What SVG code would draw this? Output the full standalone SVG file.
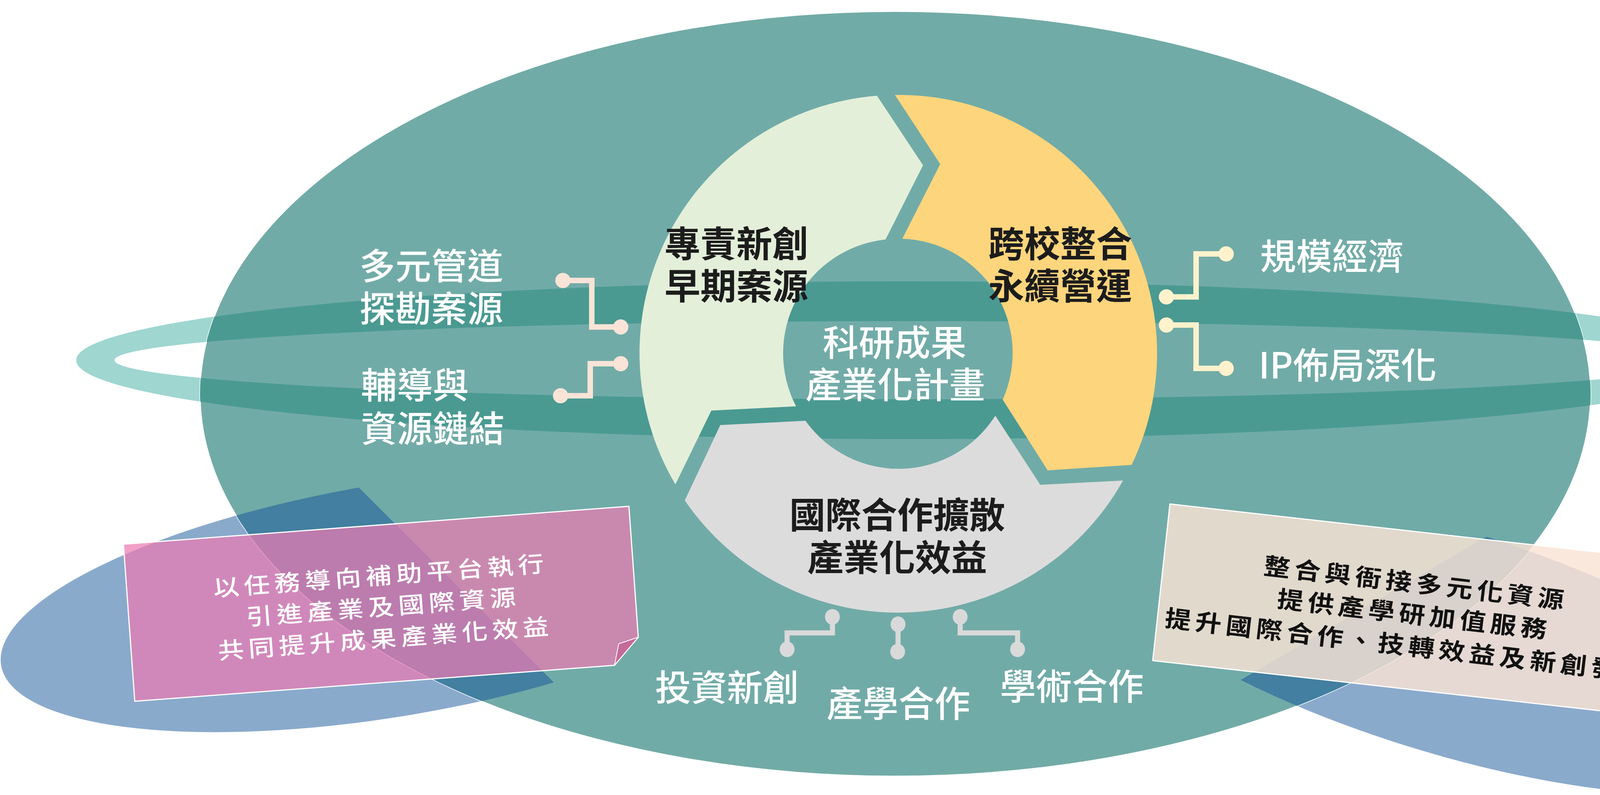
<svg xmlns="http://www.w3.org/2000/svg" width="4597" height="2035" viewBox="0 0 4597 2035">
  <style>
    .lbl { font-family: "Noto Sans CJK TC", "Noto Sans CJK SC", sans-serif; font-size: 92px; }
    .w { fill: #ffffff; font-weight: 500; }
    .d { fill: #1c1c1c; font-weight: 700; }
    .note { font-family: "Noto Sans CJK TC", "Noto Sans CJK SC", sans-serif; letter-spacing: 10px; text-anchor: middle; }
    .c { text-anchor: middle; }
    .connL { fill: none; stroke: #fae3d7; stroke-width: 14; }
    .connR { fill: none; stroke: #fff2cc; stroke-width: 14; }
    .connB { fill: none; stroke: #d9d9d9; stroke-width: 13; }
  </style>
  <defs>
    <clipPath id="clipTeal">
      <ellipse cx="2292" cy="1008" rx="1780" ry="979"/>
    </clipPath>
    <clipPath id="halfL">
      <polygon points="599,722 1721,2294 -500,2294 -500,722"/>
    </clipPath>
    <clipPath id="halfR">
      <polygon points="4162,877 2857,2293 5000,2293 5000,877"/>
    </clipPath>
  </defs>

  <!-- background shapes -->
  <g id="background">
    <ellipse id="blue-left" cx="1002" cy="1536" rx="1013" ry="298" transform="rotate(-9.5 1002 1536)" fill="#8aaacc"/>
    <ellipse id="blue-right" cx="3698" cy="1640" rx="960" ry="286" transform="rotate(17.1 3698 1640)" fill="#8aaacc"/>
    <path id="ring-light" fill-rule="evenodd" fill="#9fd6d0"
      d="M195 922 A2129 202 0 1 0 4453 922 A2129 202 0 1 0 195 922 Z M293 922 A2030 100 0 1 0 4353 922 A2030 100 0 1 0 293 922 Z"/>
    <ellipse id="planet" cx="2292" cy="1008" rx="1780" ry="979" fill="#71aba7" stroke="#ffffff" stroke-width="3"/>
    <g clip-path="url(#clipTeal)">
      <path id="ring-dark" fill-rule="evenodd" fill="#4a9a92"
        d="M195 922 A2129 202 0 1 0 4453 922 A2129 202 0 1 0 195 922 Z M293 922 A2030 100 0 1 0 4353 922 A2030 100 0 1 0 293 922 Z"/>
      <ellipse cx="1002" cy="1536" rx="1013" ry="298" transform="rotate(-9.5 1002 1536)" fill="#427fa0" clip-path="url(#halfL)"/>
      <ellipse cx="3698" cy="1640" rx="960" ry="286" transform="rotate(17.1 3698 1640)" fill="#427fa0" clip-path="url(#halfR)"/>
    </g>
  </g>

  <!-- cycle arrows -->
  <g id="node-startup">
    <path d="M1729 1240 A661 661 0 0 1 2245 245 L2363 423 L2267 613 A293 293 0 0 0 2038 1040 L1821 1051 Z" fill="#e3efd9"/>
    <text class="lbl d c"><tspan x="1885" y="658">專責新創</tspan><tspan x="1885" y="766">早期案源</tspan></text>
  </g>
  <g id="node-crossschool">
    <path d="M2291 243 A661 661 0 0 1 2897 1190 L2682 1204 L2567 1023 A293 293 0 0 0 2310 611 L2407 420 Z" fill="#fdd57c"/>
    <text class="lbl d c"><tspan x="2714" y="658">跨校整合</tspan><tspan x="2714" y="766">永續營運</tspan></text>
  </g>
  <g id="node-international">
    <path d="M2875 1230 A661 661 0 0 1 1753 1281 L1844 1088 L2062 1077 A293 293 0 0 0 2548 1064 L2663 1241 Z" fill="#dcdcdc"/>
    <text class="lbl d c"><tspan x="2297" y="1352">國際合作擴散</tspan><tspan x="2297" y="1461">產業化效益</tspan></text>
  </g>
  <g id="node-center">
    <text class="lbl w c"><tspan x="2290" y="911">科研成果</tspan><tspan x="2292" y="1019">產業化計畫</tspan></text>
  </g>

  <!-- connectors -->
  <g id="connectors">
    <path class="connL" d="M1441 718 H1515 V837 H1589"/>
    <circle cx="1441" cy="718" r="19.5" fill="#fae3d7"/>
    <circle cx="1589" cy="837" r="19.5" fill="#fae3d7"/>
    <path class="connL" d="M1589 931 H1511 V1013 H1435"/>
    <circle cx="1589" cy="931" r="19.5" fill="#fae3d7"/>
    <circle cx="1435" cy="1013" r="19.5" fill="#fae3d7"/>

    <path class="connR" d="M3139 650 H3062 V760 H2986"/>
    <circle cx="3139" cy="650" r="19.5" fill="#fff2cc"/>
    <circle cx="2986" cy="760" r="19.5" fill="#fff2cc"/>
    <path class="connR" d="M2986 832 H3062 V943 H3139"/>
    <circle cx="2986" cy="832" r="19.5" fill="#fff2cc"/>
    <circle cx="3139" cy="943" r="19.5" fill="#fff2cc"/>

    <path class="connB" d="M2131 1579 V1620 H2015 V1662"/>
    <ellipse cx="2131" cy="1579" rx="19" ry="20" fill="#d9d9d9"/>
    <ellipse cx="2015" cy="1662" rx="19" ry="20" fill="#d9d9d9"/>
    <path class="connB" d="M2299 1598 V1668"/>
    <ellipse cx="2299" cy="1598" rx="19" ry="20" fill="#d9d9d9"/>
    <ellipse cx="2298" cy="1668" rx="19" ry="20" fill="#d9d9d9"/>
    <path class="connB" d="M2458 1579 V1620 H2605 V1662"/>
    <ellipse cx="2458" cy="1579" rx="19" ry="20" fill="#d9d9d9"/>
    <ellipse cx="2605" cy="1662" rx="19" ry="20" fill="#d9d9d9"/>
  </g>

  <!-- side labels -->
  <g id="label-channels">
    <text class="lbl w"><tspan x="920" y="715">多元管道</tspan><tspan x="920" y="824">探勘案源</tspan></text>
  </g>
  <g id="label-guidance">
    <text class="lbl w"><tspan x="924" y="1020">輔導與</tspan><tspan x="924" y="1131">資源鏈結</tspan></text>
  </g>
  <g id="label-scale">
    <text class="lbl w" x="3226" y="690">規模經濟</text>
  </g>
  <g id="label-ip">
    <text class="lbl w" x="3222" y="969">IP佈局深化</text>
  </g>
  <g id="label-invest">
    <text class="lbl w c" x="1861" y="1794">投資新創</text>
  </g>
  <g id="label-industry">
    <text class="lbl w c" x="2300" y="1835">產學合作</text>
  </g>
  <g id="label-academic">
    <text class="lbl w c" x="2744" y="1791">學術合作</text>
  </g>

  <!-- notes -->
  <g id="note-pink">
    <polygon points="316,1393 1610,1296 1634,1631 1573,1703 345,1795" fill="#eb7cb3" fill-opacity="0.72" stroke="#ffffff" stroke-width="3" stroke-linejoin="round"/>
    <polygon points="1634,1631 1584,1648 1573,1703" fill="#c56b99" stroke="#ffffff" stroke-width="2" stroke-linejoin="round"/>
    <g transform="translate(975 1553) rotate(-4.3)">
      <g transform="scale(1.15 1)" fill="#ffffff" font-size="58" font-weight="500">
        <text class="note"><tspan x="5" y="-58">以任務導向補助平台執行</tspan><tspan x="5" y="22">引進產業及國際資源</tspan><tspan x="5" y="103">共同提升成果產業化效益</tspan></text>
      </g>
    </g>
  </g>
  <g id="note-beige">
    <polygon points="2995,1290 4284,1435 4249,1769 4174,1828 2951,1691" fill="#fae3d4" fill-opacity="0.82" stroke="#ffffff" stroke-width="3" stroke-linejoin="round"/>
    <polygon points="4249,1769 4196,1777 4174,1828" fill="#d4bcb3" stroke="#ffffff" stroke-width="2" stroke-linejoin="round"/>
    <g transform="translate(3615 1571) rotate(6.6)">
      <g transform="scale(1.12 1)" fill="#111111" font-size="60" font-weight="700">
        <text class="note"><tspan x="1" y="-57">整合與衙接多元化資源</tspan><tspan x="5" y="23">提供產學研加值服務</tspan><tspan x="0" y="105">提升國際合作、技轉效益及新創發展</tspan></text>
      </g>
    </g>
  </g>
</svg>
